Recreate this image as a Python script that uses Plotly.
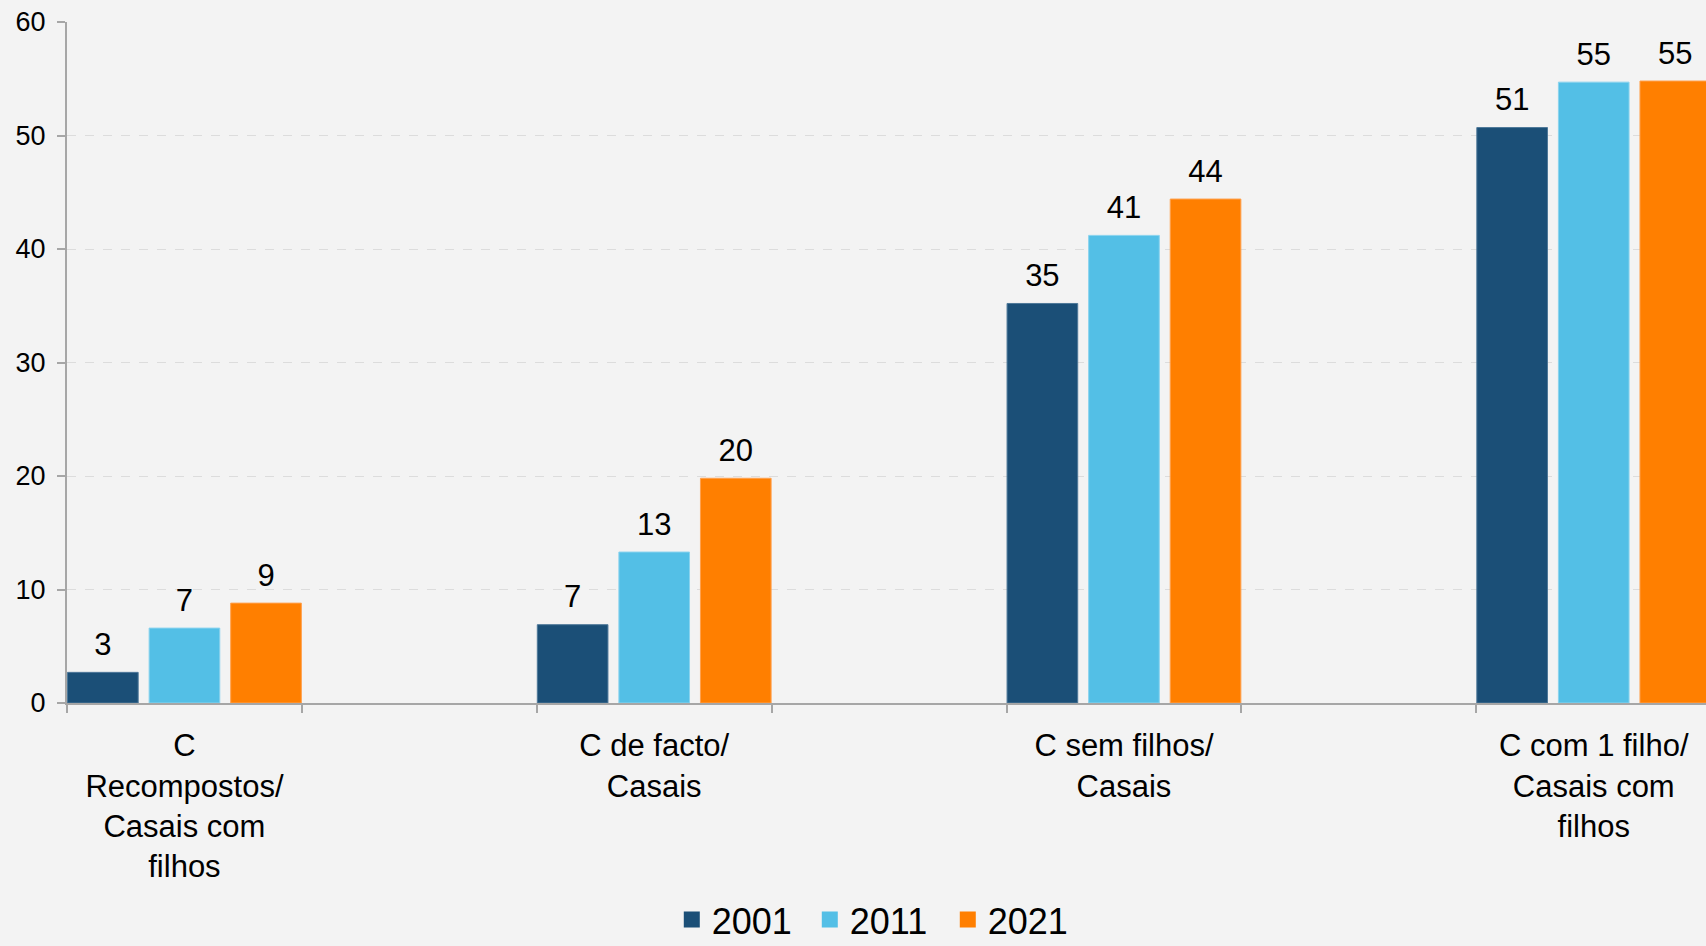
import plotly.graph_objects as go

categories = ["C<br>Recompostos/<br>Casais com<br>filhos",
              "C de facto/<br>Casais",
              "C sem filhos/<br>Casais",
              "C com 1 filho/<br>Casais com<br>filhos"]
years = ["2001", "2011", "2021"]
v2001 = [2.7, 6.9, 35.2, 50.7]
v2011 = [6.6, 13.3, 41.2, 54.7]
v2021 = [8.8, 19.8, 44.4, 54.8]
colors = ["#1B4F77", "#53BFE6", "#FF7F00"]
edges = ["#4E7899", "#8AD3EE", "#FFA04D"]
y_ticks = [0, 10, 20, 30, 40, 50, 60]
boundary_ticks = [-0.25, 0.25, 0.75, 1.25, 1.75, 2.25, 2.75, 3.25]

FONT = "Liberation Sans, Arial, sans-serif"
BARGAP = 0.479
fig = go.Figure()
for i, (name, vals, c, e) in enumerate(zip(years, [v2001, v2011, v2021], colors, edges)):
    fig.add_trace(go.Bar(
        name=name, x=categories, y=vals, offsetgroup=str(i),
        marker=dict(color=c, line=dict(color=e, width=1)),
        showlegend=False, hoverinfo="y",
    ))
for i, (name, vals) in enumerate(zip(years, [v2001, v2011, v2021])):
    fig.add_trace(go.Scatter(
        x=categories, y=vals, offsetgroup=str(i), mode="markers+text",
        marker=dict(size=14, opacity=0), text=vals, texttemplate="%{y:.0f}",
        textposition="top center", textfont=dict(size=31, color="#000000", family=FONT),
        cliponaxis=False, showlegend=False, hoverinfo="skip",
    ))
for name, c in zip(years, colors):
    fig.add_trace(go.Scatter(
        name=name, x=[None], y=[None], mode="markers",
        marker=dict(symbol="square", size=19, color=c), showlegend=True,
    ))
# invisible trace carrying the boundary-tick axis
fig.add_trace(go.Scatter(x=[boundary_ticks[0]], y=[0], xaxis="x2", mode="markers",
                         marker=dict(opacity=0), showlegend=False, hoverinfo="skip"))

fig.update_layout(
    width=1706, height=946,
    paper_bgcolor="#F3F3F3", plot_bgcolor="#F3F3F3",
    margin=dict(l=67, r=0, t=22, b=243, autoexpand=False),
    barmode="group", bargap=BARGAP, bargroupgap=0.134,
    scattermode="group", scattergap=BARGAP,
    font=dict(family=FONT, color="#000000"),
    showlegend=True,
    legend=dict(orientation="h", x=0.369, xanchor="left", y=-0.318, yanchor="middle",
                font=dict(size=36, family=FONT), bgcolor="rgba(0,0,0,0)",
                entrywidth=93, entrywidthmode="pixels", tracegroupgap=0),
    xaxis=dict(type="category", range=[-0.25, 3.239], showgrid=False, ticks="",
               showline=True, linecolor="#A6A6A6", linewidth=2, automargin=False,
               tickfont=dict(size=31, family=FONT), ticklabelstandoff=14),
    xaxis2=dict(overlaying="x", range=[-0.25, 3.239], tickmode="array", tickvals=boundary_ticks,
                showticklabels=False, ticks="outside", ticklen=9, tickwidth=2, tickcolor="#A6A6A6",
                showgrid=False, showline=False, zeroline=False, anchor="y", side="bottom",
                automargin=False),
    yaxis=dict(range=[0, 60], tickmode="array", tickvals=y_ticks,
               showgrid=True, gridcolor="#DCDCDC", griddash="dash", gridwidth=1,
               showline=True, linecolor="#A6A6A6", linewidth=2, automargin=False,
               ticks="outside", ticklen=8, tickwidth=2, tickcolor="#A6A6A6",
               zeroline=False, tickfont=dict(size=27, family=FONT), ticklabelstandoff=6),
)
fig.write_html("out.html", config={"displayModeBar": False},
               post_script="document.body.style.margin='0';document.body.style.background='#F3F3F3';")
